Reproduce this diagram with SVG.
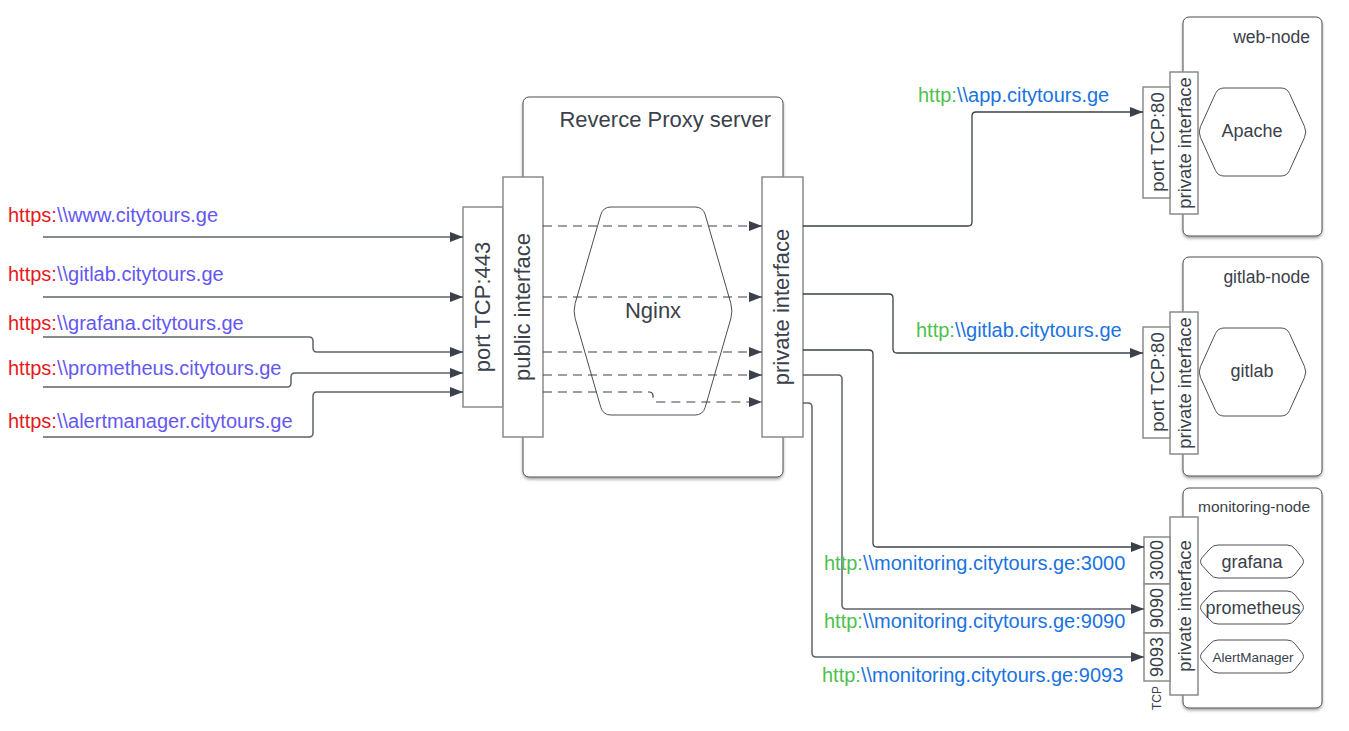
<svg xmlns="http://www.w3.org/2000/svg" width="1349" height="731" viewBox="0 0 1349 731">
<style>
text{font-family:"Liberation Sans",Arial,sans-serif;fill:#3a414a}
.node{fill:#fff;stroke:#4a4f55;stroke-width:1}
.iface{fill:#fff;stroke:#8a8a8a;stroke-width:1.5}
.hex{fill:#fff;stroke:#4a4f55;stroke-width:1;stroke-linejoin:round}
.conn{fill:none;stroke:#3a414a;stroke-width:1.3}
.gconn{fill:none;stroke:#5f6469;stroke-width:1.5}
.dash{fill:none;stroke:#3a414a;stroke-width:1.2;stroke-dasharray:9,6}
.red{fill:#e5191b}
.pur{fill:#6457f0}
.grn{fill:#4ec14e}
.blu{fill:#1a73e0}
.v{dominant-baseline:central;text-anchor:middle}
</style>
<defs>
<marker id="arr" markerUnits="userSpaceOnUse" markerWidth="14" markerHeight="10" refX="13" refY="5" orient="auto">
<path d="M0,0 L13,5 L0,10 z" fill="#3a414a"/>
</marker>
<filter id="sh" x="-10%" y="-10%" width="120%" height="120%">
<feDropShadow dx="0" dy="2" stdDeviation="1.5" flood-color="#000" flood-opacity="0.35"/>
</filter>
<path id="bighex" d="M1224,88 H1281 Q1287,88 1289.5,93.5 L1304.5,126.5 Q1307,132 1304.5,137.5 L1289.5,170.5 Q1287,176 1281,176 H1224 Q1218,176 1215.5,170.5 L1200.5,137.5 Q1198,132 1200.5,126.5 L1215.5,93.5 Q1218,88 1224,88 Z"/>
<path id="smallhex" d="M1218,545 H1287 Q1292,545 1295.1,548.9 L1301.9,557.6 Q1305,561.5 1301.9,565.4 L1295.1,574.1 Q1292,578 1287,578 H1218 Q1213,578 1209.9,574.1 L1202.1,565.4 Q1199,561.5 1202.1,557.6 L1209.9,548.9 Q1213,545 1218,545 Z"/>
</defs>

<g id="proxy-server">
<rect class="node" x="523" y="97" width="260" height="380" rx="6" filter="url(#sh)"/>
<text x="771" y="127" font-size="22" text-anchor="end">Reverce Proxy server</text>
</g>
<g id="nginx">
<path class="hex" d="M611,207 H695 Q703,207 705.2,214.7 L730.8,303.3 Q733,311 730.8,318.7 L705.2,407.3 Q703,415 695,415 H611 Q603,415 600.8,407.3 L575.2,318.7 Q573,311 575.2,303.3 L600.8,214.7 Q603,207 611,207 Z"/>
<text x="653" y="318" font-size="22" text-anchor="middle">Nginx</text>
</g>
<g id="port-443">
<rect class="iface" x="463" y="207" width="40" height="200"/>
<text class="v" transform="translate(482,307) rotate(-90)" font-size="22">port TCP:443</text>
</g>
<g id="public-interface">
<rect class="iface" x="503" y="177" width="40" height="260"/>
<text class="v" transform="translate(522,307) rotate(-90)" font-size="22">public interface</text>
</g>
<g id="proxy-private-interface">
<rect class="iface" x="762" y="177" width="41" height="260"/>
<text class="v" transform="translate(781,307) rotate(-90)" font-size="22">private interface</text>
</g>

<g id="web-node">
<rect class="node" x="1183" y="17" width="139" height="219" rx="6" filter="url(#sh)"/>
<text x="1310" y="43" font-size="17.5" text-anchor="end">web-node</text>
<use href="#bighex" class="hex"/>
<text x="1252" y="137" font-size="18" text-anchor="middle">Apache</text>
</g>
<g id="web-private-interface">
<rect class="iface" x="1170" y="72" width="28" height="142"/>
<text class="v" transform="translate(1184,143) rotate(-90)" font-size="18.5">private interface</text>
</g>
<g id="web-port-80">
<rect class="iface" x="1143" y="87" width="27" height="111"/>
<text class="v" transform="translate(1157,142) rotate(-90)" font-size="18.5">port TCP:80</text>
</g>

<g id="gitlab-node">
<rect class="node" x="1183" y="257" width="139" height="219" rx="6" filter="url(#sh)"/>
<text x="1310" y="283" font-size="17.5" text-anchor="end">gitlab-node</text>
<use href="#bighex" class="hex" transform="translate(0,240)"/>
<text x="1252" y="377" font-size="18" text-anchor="middle">gitlab</text>
</g>
<g id="gitlab-private-interface">
<rect class="iface" x="1170" y="312" width="28" height="142"/>
<text class="v" transform="translate(1184,383) rotate(-90)" font-size="18.5">private interface</text>
</g>
<g id="gitlab-port-80">
<rect class="iface" x="1143" y="327" width="27" height="111"/>
<text class="v" transform="translate(1157,382) rotate(-90)" font-size="18.5">port TCP:80</text>
</g>

<g id="monitoring-node">
<rect class="node" x="1183" y="488" width="139" height="220" rx="6" filter="url(#sh)"/>
<text x="1310" y="512" font-size="15.5" text-anchor="end">monitoring-node</text>
</g>
<g id="grafana">
<use href="#smallhex" class="hex"/>
<text x="1252" y="568" font-size="18" text-anchor="middle">grafana</text>
</g>
<g id="prometheus">
<use href="#smallhex" class="hex" transform="translate(0,46)"/>
<text x="1253" y="614" font-size="18" text-anchor="middle">prometheus</text>
</g>
<g id="alertmanager">
<use href="#smallhex" class="hex" transform="translate(0,95)"/>
<text x="1253" y="661.5" font-size="13.5" text-anchor="middle">AlertManager</text>
</g>
<g id="monitoring-private-interface">
<rect class="iface" x="1170" y="517" width="28" height="178"/>
<text class="v" transform="translate(1184,606) rotate(-90)" font-size="18.5">private interface</text>
</g>
<g id="port-3000">
<rect class="iface" x="1144" y="537" width="26" height="47"/>
<text class="v" transform="translate(1157,560) rotate(-90)" font-size="18">3000</text>
</g>
<g id="port-9090">
<rect class="iface" x="1144" y="584" width="26" height="49"/>
<text class="v" transform="translate(1157,608) rotate(-90)" font-size="18">9090</text>
</g>
<g id="port-9093">
<rect class="iface" x="1144" y="633" width="26" height="48"/>
<text class="v" transform="translate(1157,657) rotate(-90)" font-size="18">9093</text>
</g>
<g id="tcp-label">
<text class="v" transform="translate(1157,698) rotate(-90)" font-size="12">TCP</text>
</g>

<g id="connectors">
<path class="gconn" marker-end="url(#arr)" d="M43,237 H463"/>
<path class="gconn" marker-end="url(#arr)" d="M43,297 H463"/>
<path class="gconn" marker-end="url(#arr)" d="M43,337 H309 Q313,337 313,341 V348 Q313,352 317,352 H463"/>
<path class="gconn" marker-end="url(#arr)" d="M43,387 H287 Q291,387 291,383 V377 Q291,373 295,373 H463"/>
<path class="gconn" marker-end="url(#arr)" d="M43,437 H309 Q313,437 313,433 V396 Q313,392 317,392 H463"/>

<path class="dash" marker-end="url(#arr)" d="M543,226 H762"/>
<path class="dash" marker-end="url(#arr)" d="M543,297 H762"/>
<path class="dash" marker-end="url(#arr)" d="M543,352 H762"/>
<path class="dash" marker-end="url(#arr)" d="M543,375 H762"/>
<path class="dash" marker-end="url(#arr)" d="M543,392 H649 Q653,392 653,396 V398 Q653,402 657,402 H762"/>

<path class="conn" marker-end="url(#arr)" d="M803,226 H968 Q972,226 972,222 V116 Q972,112 976,112 H1143"/>
<path class="conn" marker-end="url(#arr)" d="M803,294 H889 Q893,294 893,298 V349 Q893,353 897,353 H1143"/>
<path class="conn" marker-end="url(#arr)" d="M803,350 H869 Q873,350 873,354 V543 Q873,547 877,547 H1144"/>
<path class="gconn" marker-end="url(#arr)" d="M803,375 H838 Q842,375 842,379 V605 Q842,609 846,609 H1144"/>
<path class="gconn" marker-end="url(#arr)" d="M803,403 H808 Q812,403 812,407 V653 Q812,657 816,657 H1144"/>
</g>

<g id="labels">
<text x="8" y="222" font-size="20"><tspan class="red">https:</tspan><tspan class="pur">\\www.citytours.ge</tspan></text>
<text x="8" y="281" font-size="20"><tspan class="red">https:</tspan><tspan class="pur">\\gitlab.citytours.ge</tspan></text>
<text x="8" y="330" font-size="20"><tspan class="red">https:</tspan><tspan class="pur">\\grafana.citytours.ge</tspan></text>
<text x="8" y="375" font-size="20"><tspan class="red">https:</tspan><tspan class="pur">\\prometheus.citytours.ge</tspan></text>
<text x="8" y="428" font-size="20"><tspan class="red">https:</tspan><tspan class="pur">\\alertmanager.citytours.ge</tspan></text>
<text x="918" y="102" font-size="20"><tspan class="grn">http:</tspan><tspan class="blu">\\app.citytours.ge</tspan></text>
<text x="916" y="337" font-size="20"><tspan class="grn">http:</tspan><tspan class="blu">\\gitlab.citytours.ge</tspan></text>
<text x="824" y="570" font-size="20"><tspan class="grn">http:</tspan><tspan class="blu">\\monitoring.citytours.ge:3000</tspan></text>
<text x="824" y="628" font-size="20"><tspan class="grn">http:</tspan><tspan class="blu">\\monitoring.citytours.ge:9090</tspan></text>
<text x="822" y="682" font-size="20"><tspan class="grn">http:</tspan><tspan class="blu">\\monitoring.citytours.ge:9093</tspan></text>
</g>
</svg>
